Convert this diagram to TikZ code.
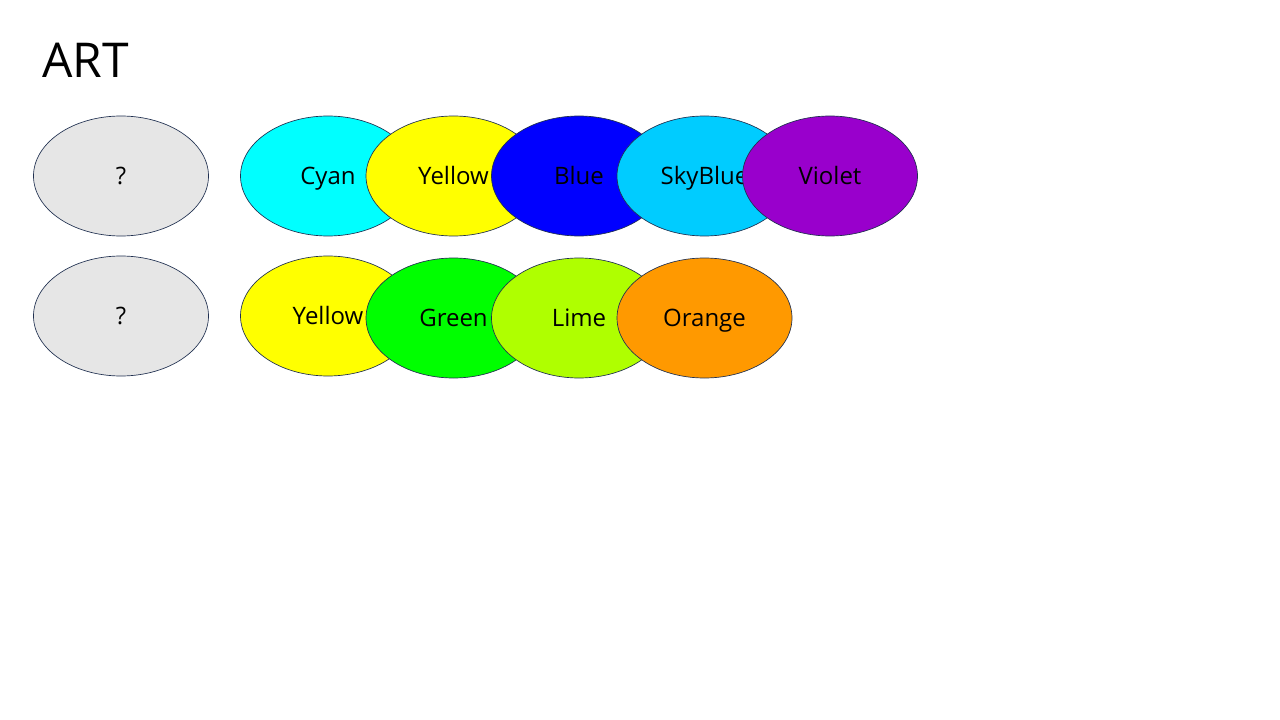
\documentclass[tikz,border=0pt]{standalone}
\usepackage{fontspec}
\setmainfont{Open Sans}
\usetikzlibrary{shapes.geometric}
\definecolor{edge}{HTML}{203050}
\definecolor{qgray}{HTML}{E6E6E6}
\definecolor{cCyan}{HTML}{00FFFF}
\definecolor{cYellow}{HTML}{FFFF00}
\definecolor{cBlue}{HTML}{0000FF}
\definecolor{cSky}{HTML}{00CCFF}
\definecolor{cViolet}{HTML}{9900CC}
\definecolor{cGreen}{HTML}{00FF00}
\definecolor{cLime}{HTML}{AFFF00}
\definecolor{cOrange}{HTML}{FF9900}
\tikzset{
  blob/.style={ellipse, draw=edge, line width=0.5pt, minimum width=131.25pt, minimum height=90pt, inner sep=0pt, font=\fontsize{18pt}{20pt}\selectfont, text=black, text height=12.8pt, text depth=0pt},
}
\begin{document}
\begin{tikzpicture}[x=0.75pt,y=-0.75pt]
\useasboundingbox (0,0) rectangle (1280,720);
\node[anchor=base west, inner sep=0pt, font=\fontsize{36pt}{40pt}\selectfont] (title) at (42,78) {ART};
\node[blob, fill=qgray] (q1) at (121,176) {?};
\node[blob, fill=qgray] (q2) at (121,316) {?};
% row 1
\node[blob, fill=cCyan] (r1a) at (328,176) {Cyan};
\node[blob, fill=cYellow] (r1b) at (453.5,176) {Yellow};
\node[blob, fill=cBlue] (r1c) at (579,176) {Blue};
\node[blob, fill=cSky] (r1d) at (704.5,176) {SkyBlue};
\node[blob, fill=cViolet] (r1e) at (830,176) {Violet};
% row 2
\node[blob, fill=cYellow] (r2a) at (328,316) {Yellow};
\node[blob, fill=cGreen] (r2b) at (453.5,318) {Green};
\node[blob, fill=cLime] (r2c) at (579,318) {Lime};
\node[blob, fill=cOrange] (r2d) at (704.5,318) {Orange};
\end{tikzpicture}
\end{document}
